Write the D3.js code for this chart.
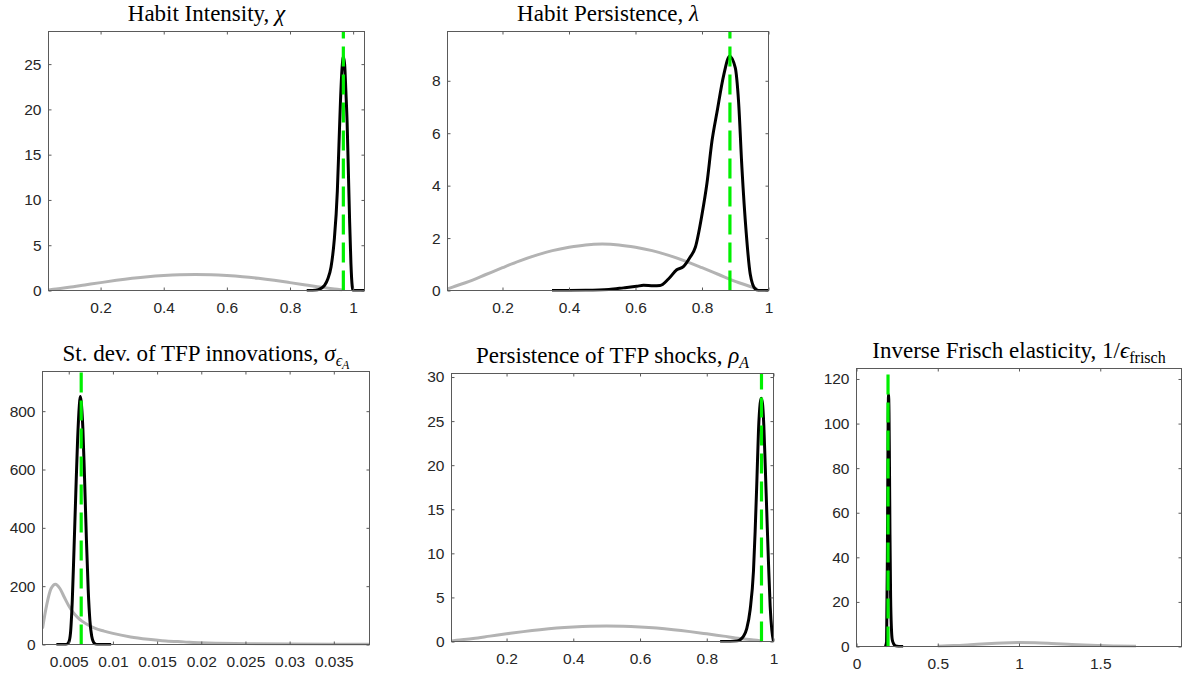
<!DOCTYPE html>
<html><head><meta charset="utf-8">
<script src="https://cdn.jsdelivr.net/npm/d3@7"></script>
<style>body{margin:0;background:#fff}svg{display:block}</style>
</head><body><svg id="c" width="1185" height="675"></svg>
<script>
// ---------------- data ----------------
// Common Beta prior (panels chi, lambda, rhoA)
const betaPriorX = [0.035,0.05,0.1,0.15,0.2,0.25,0.3,0.35,0.4,0.45,0.5,0.55,0.6,0.65,0.7,0.75,0.8,0.85,0.9,0.95,0.965];
const betaPriorY = [0.06,0.13,0.35,0.61,0.87,1.12,1.34,1.52,1.65,1.74,1.77,1.74,1.65,1.52,1.34,1.12,0.87,0.61,0.35,0.13,0.06];

// Habit intensity chi
const chiPostX = [0.853,0.87,0.88,0.89,0.9,0.91,0.92,0.93,0.94,0.95,0.955,0.96,0.965,0.969,0.973,0.977,0.981,0.985,0.989,0.993,0.997,1.0,1.036];
const chiPostY = [0,0.01,0.03,0.1,0.28,0.6,1.3,2.6,5.5,11,16,21,24.6,25.8,25,22,18.5,13,7.5,3,0.5,0,0];
const chiMode = 0.969;
const chiXTicks = [0.2,0.4,0.6,0.8,1];
const chiXLabels = ["0.2","0.4","0.6","0.8","1"];
const chiYTicks = [0,5,10,15,20,25];
const chiXLim = [0.035,1.036], chiYLim = [0,28.6];

// Habit persistence lambda
const lamPostX = [0.349,0.45,0.52,0.564,0.604,0.624,0.654,0.674,0.699,0.724,0.744,0.764,0.78,0.8,0.815,0.83,0.845,0.865,0.883,0.9,0.91,0.92,0.933,0.945,0.96,0.97,1.0];
const lamPostY = [0,0.01,0.04,0.1,0.16,0.2,0.18,0.19,0.44,0.79,0.91,1.27,1.65,2.9,4.1,5.7,6.8,8.2,8.94,8.5,7.2,4.7,2.2,0.63,0.06,0,0];
const lamMode = 0.884;
const lamXTicks = [0.2,0.4,0.6,0.8,1];
const lamXLabels = ["0.2","0.4","0.6","0.8","1"];
const lamYTicks = [0,2,4,6,8];
const lamXLim = [0.0346,1.0], lamYLim = [0,9.88];

// St. dev. of TFP innovations
const sigPriorX = [0.00203,0.0025,0.003,0.0035,0.004,0.0045,0.005,0.0055,0.006,0.0065,0.007,0.008,0.009,0.01,0.012,0.014,0.016,0.018,0.02,0.025,0.03,0.035,0.03904];
const sigPriorY = [55,135,192,207,192,162,133,110,93,80,70,55,46,38,26,18,12,9,6,3,1.5,0.8,0.5];
const sigPostX = [0.0036,0.0047,0.005,0.0052,0.0054,0.0056,0.0058,0.006,0.0062,0.0063,0.0064,0.0066,0.0068,0.007,0.0072,0.0074,0.0076,0.0078,0.008,0.0082,0.0098];
const sigPostY = [0,0,8,40,150,330,520,700,820,850,835,740,560,360,190,80,28,8,2,0,0];
const sigMode = 0.00641;
const sigXTicks = [0.005,0.01,0.015,0.02,0.025,0.03,0.035];
const sigXLabels = ["0.005","0.01","0.015","0.02","0.025","0.03","0.035"];
const sigYTicks = [0,200,400,600,800];
const sigXLim = [0.00203,0.03904], sigYLim = [0,936];

// Persistence of TFP shocks rhoA
const rhoPostX = [0.84,0.87,0.89,0.9,0.91,0.92,0.93,0.94,0.945,0.95,0.955,0.96,0.963,0.967,0.971,0.975,0.98,0.985,0.99,0.995,1.0];
const rhoPostY = [0,0.01,0.05,0.2,0.6,1.5,3.6,8,12.5,18,23.9,27,27.6,27,24.5,20.2,14.5,8.9,4,1.3,0];
const rhoMode = 0.964;
const rhoXTicks = [0.2,0.4,0.6,0.8,1];
const rhoXLabels = ["0.2","0.4","0.6","0.8","1"];
const rhoYTicks = [0,5,10,15,20,25,30];
const rhoXLim = [0.035,1.0], rhoYLim = [0,30.4];

// Inverse Frisch elasticity
const friPriorX = [0.5,0.6,0.7,0.8,0.9,1.0,1.1,1.2,1.3,1.4,1.5,1.6,1.72];
const friPriorY = [0.15,0.4,0.8,1.25,1.6,1.75,1.65,1.35,1.0,0.65,0.4,0.22,0.1];
const friPostX = [0.178,0.185,0.19,0.194,0.197,0.2,0.203,0.206,0.21,0.215,0.22,0.23,0.24,0.26,0.287];
const friPostY = [0,2,40,95,113,105,80,50,22,8,3,1,0.3,0.05,0];
const friMode = 0.194;
const friXTicks = [0,0.5,1,1.5];
const friXLabels = ["0","0.5","1","1.5"];
const friYTicks = [0,20,40,60,80,100,120];
const friXLim = [0,2], friYLim = [0,124.7];

// ---------------- layout ----------------
const panels = [
  {box:[48.5,31.5,364.5,290.5], title:[{t:"Habit Intensity, "},{t:"χ",i:1}],
   xlim:chiXLim, ylim:chiYLim, xt:chiXTicks, xl:chiXLabels, yt:chiYTicks,
   prior:[betaPriorX,betaPriorY], post:[chiPostX,chiPostY], mode:chiMode},
  {box:[447.5,31.5,768.5,290.5], title:[{t:"Habit Persistence, "},{t:"λ",i:1}],
   xlim:lamXLim, ylim:lamYLim, xt:lamXTicks, xl:lamXLabels, yt:lamYTicks,
   prior:[betaPriorX,betaPriorY], post:[lamPostX,lamPostY], mode:lamMode},
  {box:[42.5,371.5,369.5,644.5], title:[{t:"St. dev. of TFP innovations, "},{t:"σ",i:1},{t:"ϵ",i:1,s:1},{t:"A",i:1,s:2}],
   xlim:sigXLim, ylim:sigYLim, xt:sigXTicks, xl:sigXLabels, yt:sigYTicks,
   prior:[sigPriorX,sigPriorY], post:[sigPostX,sigPostY], mode:sigMode},
  {box:[451.5,373.5,773.5,641.5], title:[{t:"Persistence of TFP shocks, "},{t:"ρ",i:1},{t:"A",i:1,s:1}],
   xlim:rhoXLim, ylim:rhoYLim, xt:rhoXTicks, xl:rhoXLabels, yt:rhoYTicks,
   prior:[betaPriorX,betaPriorY], post:[rhoPostX,rhoPostY], mode:rhoMode},
  {box:[856.5,368.5,1181.5,646.5], title:[{t:"Inverse Frisch elasticity, 1/"},{t:"ϵ",i:1},{t:"frisch",s:1}],
   xlim:friXLim, ylim:friYLim, xt:friXTicks, xl:friXLabels, yt:friYTicks,
   prior:[friPriorX,friPriorY], post:[friPostX,friPostY], mode:friMode}
];

const svg = d3.select("#c");
const axisColor = "#5a5a5a";
const labelFont = "'Liberation Sans', Arial, Helvetica, sans-serif";
const titleFont = "'Liberation Serif', 'Times New Roman', serif";

panels.forEach((p, k) => {
  const [L,T,R,B] = p.box;
  const x = d3.scaleLinear().domain(p.xlim).range([L,R]);
  const y = d3.scaleLinear().domain(p.ylim).range([B,T]);
  const g = svg.append("g");
  const clipId = "clip"+k;
  g.append("clipPath").attr("id",clipId).append("rect")
    .attr("x",L).attr("y",T-2).attr("width",R-L).attr("height",B-T+3);

  const line = d3.line().x(d=>x(d[0])).y(d=>y(d[1])).curve(d3.curveMonotoneX);
  const plot = g.append("g").attr("clip-path",`url(#${clipId})`);
  const pri = p.prior[0].map((v,i)=>[v,p.prior[1][i]]);
  const pos = p.post[0].map((v,i)=>[v,p.post[1][i]]);
  plot.append("path").attr("d",line(pri)).attr("fill","none")
    .attr("stroke","#b3b3b3").attr("stroke-width",3);
  plot.append("path").attr("d",line(pos)).attr("fill","none")
    .attr("stroke","#000").attr("stroke-width",3).attr("stroke-linejoin","round");
  plot.append("line").attr("x1",x(p.mode)).attr("x2",x(p.mode))
    .attr("y1",y(0)).attr("y2",y(p.ylim[1]))
    .attr("stroke","#00f000").attr("stroke-width",3.2).attr("stroke-dasharray","20 8");

  // axes (ticks inward on all sides)
  const fmt = (d)=>p.xl[p.xt.indexOf(d)];
  const ax = [
    g.append("g").attr("transform",`translate(0,${B})`).call(d3.axisBottom(x).tickValues(p.xt).tickFormat(fmt).tickSize(-3).tickPadding(11)),
    g.append("g").attr("transform",`translate(0,${T})`).call(d3.axisTop(x).tickValues(p.xt).tickFormat("").tickSize(-3)),
    g.append("g").attr("transform",`translate(${L},0)`).call(d3.axisLeft(y).tickValues(p.yt).tickFormat(d3.format("~g")).tickSize(-3).tickPadding(7)),
    g.append("g").attr("transform",`translate(${R},0)`).call(d3.axisRight(y).tickValues(p.yt).tickFormat("").tickSize(-3))
  ];
  ax.forEach(a=>{
    a.select(".domain").remove();
    a.selectAll(".tick line").attr("stroke",axisColor);
    a.selectAll(".tick text").attr("fill","#262626").style("font-family",labelFont).style("font-size","15.5px");
  });
  g.append("rect").attr("x",L).attr("y",T).attr("width",R-L).attr("height",B-T)
    .attr("fill","none").attr("stroke",axisColor).attr("stroke-width",1);

  // title
  const t = g.append("text").attr("x",(L+R)/2).attr("y",T-10.5)
    .attr("text-anchor","middle").style("font-family",titleFont).style("font-size","23px").attr("fill","#000");
  let lvl = 0;
  p.title.forEach(s=>{
    const ts = t.append("tspan").text(s.t);
    if (s.i) ts.style("font-style","italic");
    const nl = s.s||0;
    if (nl !== lvl) {
      const shifts = [0,5,8];
      ts.attr("dy", shifts[nl]-shifts[lvl]);
      lvl = nl;
    }
    if (nl===1) ts.style("font-size","16px");
    if (nl===2) ts.style("font-size","12px");
  });
});
</script></body></html>
